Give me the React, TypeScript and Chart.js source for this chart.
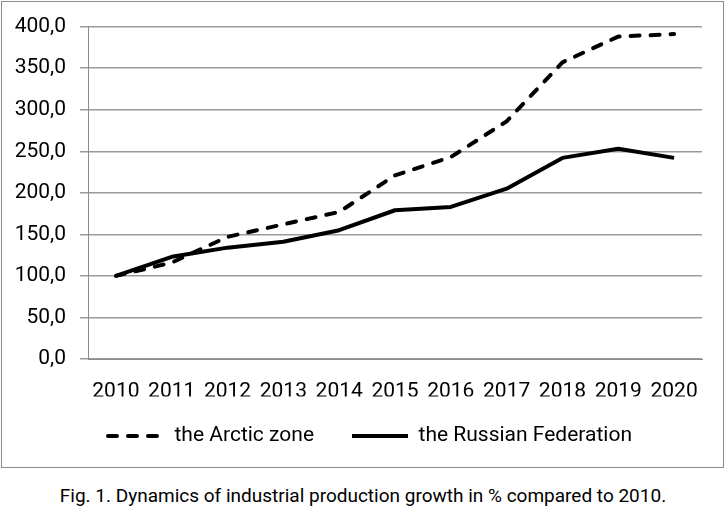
import React, { useEffect, useRef } from "react";
import { Chart, registerables } from "chart.js";

Chart.register(...registerables);

const years = ["2010", "2011", "2012", "2013", "2014", "2015", "2016", "2017", "2018", "2019", "2020"];
const arcticZone = [100, 116, 147, 162, 177, 221, 243, 286, 357, 388, 391];
const russianFederation = [100, 123, 134, 141, 155, 179, 183, 205, 242, 253, 242];
const arcticLabel = "the Arctic zone";
const russiaLabel = "the Russian Federation";
const caption = "Fig. 1. Dynamics of industrial production growth in % compared to 2010.";

const FONT = "Roboto, 'Open Sans', sans-serif";

const legendPlace = {
  id: "legendPlace",
  beforeDraw(chart: any) {
    const l = chart.legend;
    if (l) {
      l.left = 38;
      l.top = 387.5;
    }
  },
};

export default function App() {
  const ref = useRef<HTMLCanvasElement | null>(null);

  useEffect(() => {
    if (!ref.current) return;
    const chart = new Chart(ref.current, {
      type: "line",
      data: {
        labels: years,
        datasets: [
          {
            label: arcticLabel,
            data: arcticZone,
            borderColor: "#000",
            backgroundColor: "#000",
            borderWidth: 4,
            borderDash: [9, 11],
            borderCapStyle: "round",
            borderJoinStyle: "round",
            pointRadius: 0,
            tension: 0,
          },
          {
            label: russiaLabel,
            data: russianFederation,
            borderColor: "#000",
            backgroundColor: "#000",
            borderWidth: 4,
            borderJoinStyle: "round",
            pointRadius: 0,
            tension: 0,
          },
        ],
      },
      plugins: [legendPlace],
      options: {
        animation: false,
        responsive: false,
        devicePixelRatio: 1,
        layout: { padding: { top: 24, right: 24, left: 0, bottom: 4.5 } },
        plugins: {
          tooltip: { enabled: false },
          legend: {
            position: "bottom",
            labels: {
              usePointStyle: true,
              pointStyle: "line",
              pointStyleWidth: 56,
              boxWidth: 56,
              boxHeight: 4,
              padding: 38,
              color: "#000",
              font: { family: FONT, size: 21 },
              generateLabels: (c: any) => {
                const items = Chart.defaults.plugins.legend.labels.generateLabels(c);
                return items.map((it: any, i: number) => {
                  const ds: any = c.data.datasets[i];
                  return {
                    ...it,
                    lineDash: ds.borderDash || [],
                    lineCap: ds.borderDash ? "round" : "butt",
                    lineWidth: 4,
                    strokeStyle: "#000",
                    fillStyle: "#000",
                  };
                });
              },
            },
          },
        },
        scales: {
          x: {
            offset: true,
            grid: { display: false },
            border: { display: true, color: "#8c8c8c", width: 1 },
            ticks: { color: "#000", font: { family: FONT, size: 21 }, padding: 12, maxRotation: 0, autoSkip: false },
            afterFit: (s: any) => {
              s.height = 37.5;
            },
          },
          y: {
            min: 0,
            max: 400,
            grid: { color: "#9a9a9a", lineWidth: 1.5, tickLength: 8 },
            border: { display: true, color: "#8c8c8c", width: 1 },
            ticks: {
              stepSize: 50,
              color: "#000",
              padding: 14,
              font: { family: FONT, size: 21 },
              callback: (v: any) => Number(v).toFixed(1).replace(".", ","),
            },
            afterFit: (s: any) => {
              s.width = 88;
            },
          },
        },
      },
    });
    return () => chart.destroy();
  }, []);

  return (
    <div style={{ position: "absolute", left: 0, top: 0, width: 726, height: 508, background: "#fff", overflow: "hidden" }}>
      <canvas ref={ref} width={726} height={470} style={{ position: "absolute", left: 0, top: 0, width: 726, height: 470 }} />
      <div
        style={{
          position: "absolute",
          left: 1,
          top: 1,
          width: 723,
          height: 467,
          boxSizing: "border-box",
          border: "1px solid #8c8c8c",
          pointerEvents: "none",
        }}
      />
      <div
        style={{
          position: "absolute",
          left: 0,
          top: 485,
          width: 726,
          textAlign: "center",
          fontFamily: FONT,
          fontSize: 19,
          lineHeight: "22px",
          color: "#000",
          whiteSpace: "nowrap",
        }}
      >
        {caption}
      </div>
    </div>
  );
}
